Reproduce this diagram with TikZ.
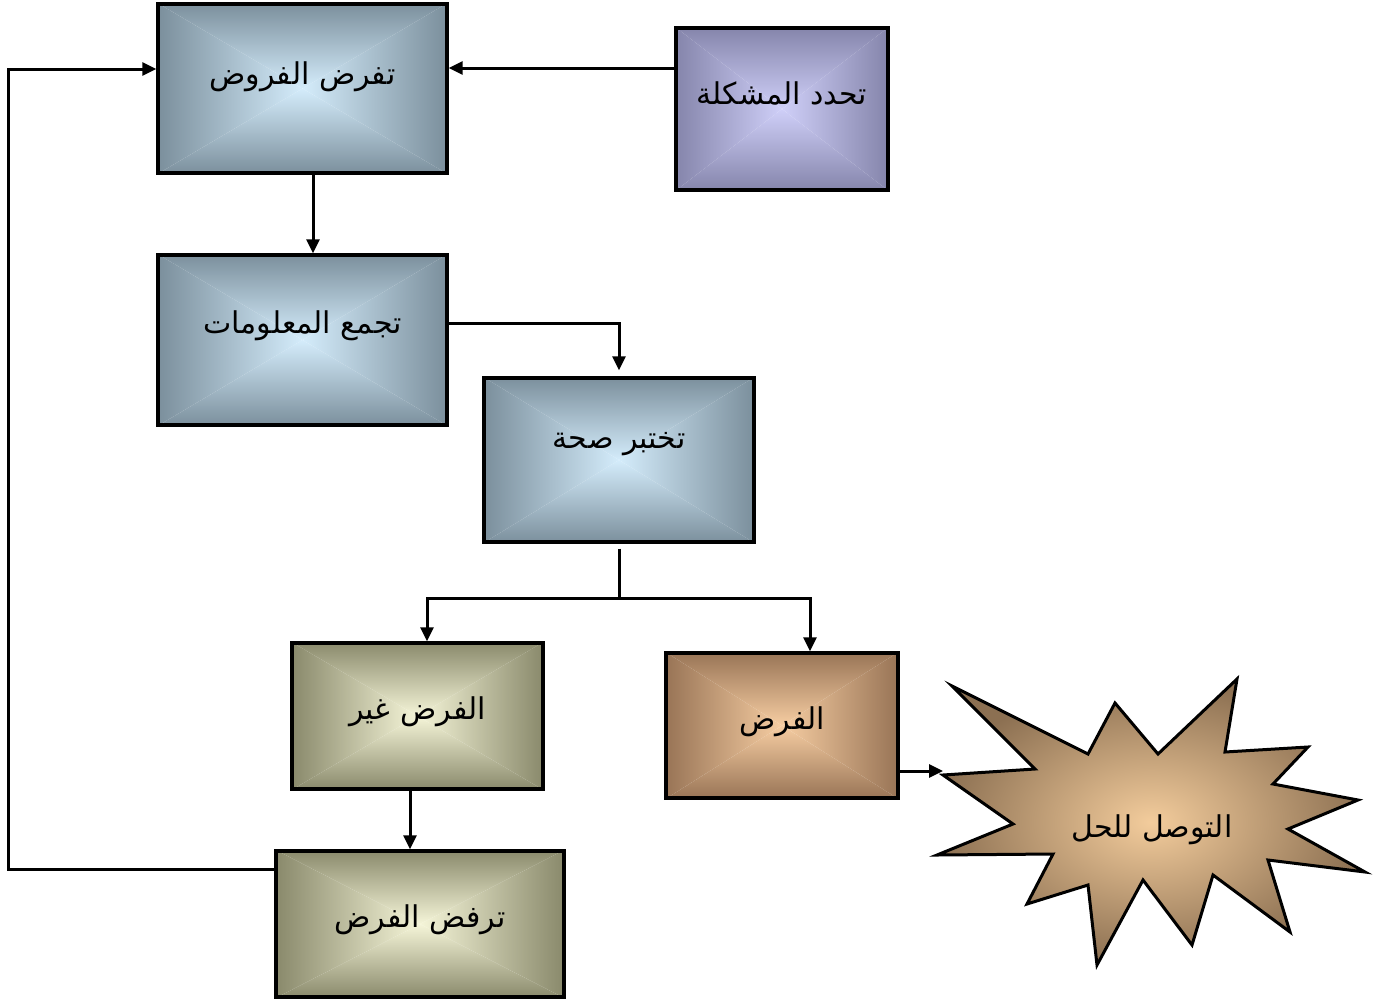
\documentclass[tikz,border=0pt]{standalone}
\usepackage{fontspec}
\newfontfamily\arabicfont[Script=Arabic]{DejaVu Sans}
\TeXXeTstate=1
\usetikzlibrary{arrows.meta,backgrounds}
\definecolor{blueO}{HTML}{7A8E9B}
\definecolor{blueI}{HTML}{D4ECFB}
\definecolor{purpO}{HTML}{8484AA}
\definecolor{purpI}{HTML}{CFCFF8}
\definecolor{oliveO}{HTML}{88886A}
\definecolor{oliveI}{HTML}{F5F5D8}
\definecolor{tanO}{HTML}{977355}
\definecolor{tanI}{HTML}{F6CDA2}
\definecolor{starO}{HTML}{8C7052}
\definecolor{starI}{HTML}{F3CC9C}
\newcommand\rectshade[3]{%
 \begin{pgfonlayer}{background}
 \begin{scope}\clip (#1.north west)--(#1.north east)--(#1.center)--cycle;
   \shade[top color=#2,bottom color=#3] (#1.north west) rectangle (#1.east);\end{scope}
 \begin{scope}\clip (#1.south west)--(#1.south east)--(#1.center)--cycle;
   \shade[top color=#3,bottom color=#2] (#1.west) rectangle (#1.south east);\end{scope}
 \begin{scope}\clip (#1.north west)--(#1.south west)--(#1.center)--cycle;
   \shade[left color=#2,right color=#3] (#1.north west) rectangle (#1.south);\end{scope}
 \begin{scope}\clip (#1.north east)--(#1.south east)--(#1.center)--cycle;
   \shade[left color=#3,right color=#2] (#1.north) rectangle (#1.south east);\end{scope}
 \end{pgfonlayer}}
\tikzset{
  box/.style={draw=black, line width=3.4pt, inner sep=0pt, rectangle},
  lbl/.style={font=\arabicfont\fontsize{30}{34}\selectfont, inner sep=0pt},
  conn/.style={draw=black, line width=3pt},
  arr/.style={conn, -{Triangle[length=14pt,width=13pt]}}
}
\begin{document}
\begin{tikzpicture}[x=1pt,y=-1pt]
\useasboundingbox (0,0) rectangle (1376,1002);
% boxes
\node[box, minimum width=289pt, minimum height=169pt] (b1) at (302.5,88.5) {};
\node[box, minimum width=212pt, minimum height=162pt] (b2) at (782,109) {};
\node[box, minimum width=289pt, minimum height=170pt] (b3) at (302.5,340) {};
\node[box, minimum width=270pt, minimum height=164pt] (b4) at (619,460) {};
\node[box, minimum width=251pt, minimum height=146pt] (b5) at (417.5,716) {};
\node[box, minimum width=232pt, minimum height=145pt] (b6) at (782,725.5) {};
\node[box, minimum width=288pt, minimum height=146pt] (b7) at (420,924) {};
\rectshade{b1}{blueO}{blueI}
\rectshade{b2}{purpO}{purpI}
\rectshade{b3}{blueO}{blueI}
\rectshade{b4}{blueO}{blueI}
\rectshade{b5}{oliveO}{oliveI}
\rectshade{b6}{tanO}{tanI}
\rectshade{b7}{oliveO}{oliveI}
% star
\shadedraw[inner color=starI, outer color=starO, draw=black, line width=3pt, line join=miter]
 (952,686) -- (1088,754) -- (1115,703) -- (1158,754) -- (1237,679) -- (1225,752)
 -- (1308,747) -- (1273,784) -- (1358,800) -- (1288,829) -- (1365,872) -- (1268,860)
 -- (1290,932) -- (1213,875) -- (1192,945) -- (1143,880) -- (1097,965) -- (1088,885)
 -- (1027,904) -- (1053,854) -- (937,855) -- (1013,824) -- (943,775) -- (1035,769) -- cycle;
\coordinate (starL) at (943,771);
% labels
\node[lbl] (t1) at ([yshift=12pt]b1.center) {\beginR تفرض الفروض\endR};
\node[lbl] (t2) at ([yshift=16pt]b2.center) {\beginR تحدد المشكلة\endR};
\node[lbl] (t3) at ([yshift=14pt]b3.center) {\beginR تجمع المعلومات\endR};
\node[lbl] (t4) at ([yshift=16pt]b4.center) {\beginR تختبر صحة\endR};
\node[lbl] (t5) at ([yshift=4pt]b5.center) {\beginR الفرض غير\endR};
\node[lbl] (t6) at ([yshift=4pt]b6.center) {\beginR الفرض\endR};
\node[lbl] (t7) at ([yshift=4pt]b7.center) {\beginR ترفض الفرض\endR};
\node[lbl] (t8) at (1152,830) {\beginR التوصل للحل\endR};
% connectors
\draw[arr] (b2.west |- 0,68) -- (b1.east |- 0,68);
\draw[arr] (b1.south -| 313,0) -- (b3.north -| 313,0);
\draw[arr, shorten >=6pt] (b3.east |- 0,323) -| (b4.north);
\coordinate (sp) at (619,598);
\draw[conn, shorten <=5pt] (b4.south) -- (sp);
\draw[arr] (sp) -| (b5.north -| 427,0);
\draw[arr] (sp) -| (b6.north -| 810,0);
\draw[arr] (b5.south -| 410,0) -- (b7.north -| 410,0);
\coordinate (l1) at (8,869);
\coordinate (l2) at (8,69);
\draw[arr] (b7.west |- l1) -- (l1) -- (l2) -- (b1.west |- l2);
\draw[arr] (b6.east |- 0,771) -- (starL);
\end{tikzpicture}
\end{document}
